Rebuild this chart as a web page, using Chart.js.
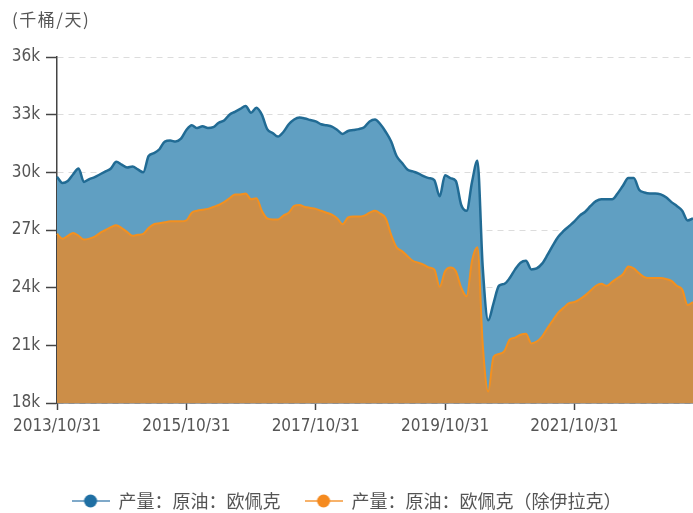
<!DOCTYPE html>
<html>
<head>
<meta charset="utf-8">
<script src="https://cdn.jsdelivr.net/npm/chart.js@4.4.1/dist/chart.umd.min.js"></script>
<style>
    html, body { margin: 0; padding: 0; background: #fff; }
    #wrap { width: 693px; height: 513px; }
</style>
</head>
<body>
<div id="wrap"><canvas id="oilChart"></canvas></div>
<script>
// OPEC crude output, thousand barrels per day (monthly)
const opecValues = [
    29.77, 29.45, 29.55, 29.9, 30.2, 29.5, 29.65, 29.75, 29.9, 30.05,
    30.2, 30.55, 30.4, 30.25, 30.3, 30.15, 30.0, 30.85, 31.0, 31.2,
    31.6, 31.65, 31.6, 31.75, 32.2, 32.45, 32.3, 32.4, 32.3, 32.35,
    32.58, 32.7, 33.0, 33.15, 33.3, 33.45, 33.1, 33.36, 33.0, 32.25,
    32.05, 31.86, 32.1, 32.5, 32.75, 32.85, 32.8, 32.72, 32.65, 32.5,
    32.45, 32.38, 32.2, 32.0, 32.15, 32.2, 32.25, 32.35, 32.65, 32.75,
    32.5, 32.1, 31.6, 30.85, 30.5, 30.15, 30.05, 29.95, 29.8, 29.7,
    29.6, 28.75, 29.85, 29.7, 29.55, 28.3, 28.0, 29.5, 30.6, 25.0,
    22.3, 23.2, 24.1, 24.2, 24.5, 24.95, 25.3, 25.4, 24.95, 25.0,
    25.25, 25.7, 26.2, 26.65, 26.95, 27.2, 27.45, 27.75, 27.95, 28.25,
    28.5, 28.6, 28.6, 28.6, 28.9, 29.3, 29.7, 29.7, 29.1, 28.95,
    28.9, 28.9, 28.85, 28.7, 28.45, 28.25, 28.0, 27.5, 27.6
];

// OPEC excluding Iraq
const opecExIraqValues = [
    26.8, 26.55, 26.7, 26.85, 26.7, 26.5, 26.55, 26.65, 26.85, 27.0,
    27.15, 27.25, 27.1, 26.9, 26.7, 26.75, 26.8, 27.1, 27.3, 27.35,
    27.4, 27.45, 27.45, 27.45, 27.5, 27.9, 28.0, 28.05, 28.1, 28.2,
    28.3, 28.45, 28.65, 28.85, 28.85, 28.9, 28.6, 28.65, 28.0, 27.6,
    27.55, 27.55, 27.75, 27.9, 28.25, 28.3, 28.2, 28.15, 28.1, 28.0,
    27.9, 27.8, 27.6, 27.3, 27.65, 27.7, 27.7, 27.75, 27.9, 28.0,
    27.85, 27.6, 26.75, 26.1, 25.9, 25.65, 25.4, 25.3, 25.2, 25.05,
    24.95, 24.05, 24.85, 25.05, 24.85, 24.0, 23.55, 25.4, 26.1, 21.0,
    18.6, 20.4, 20.55, 20.7, 21.3, 21.4, 21.55, 21.6, 21.1, 21.2,
    21.45, 21.9, 22.3, 22.7, 22.95, 23.2, 23.25, 23.4, 23.6, 23.85,
    24.1, 24.2, 24.1, 24.3, 24.5, 24.7, 25.1, 25.0, 24.75, 24.55,
    24.5, 24.5, 24.5, 24.45, 24.35, 24.1, 23.9, 23.1, 23.25
];

const seriesNames = ['产量：原油：欧佩克', '产量：原油：欧佩克（除伊拉克）'];
const yTicks = [18, 21, 24, 27, 30, 33, 36];
const labelEvery = 24;   // one x label every two years

// month-end dates, starting 2013/10/31
const monthLabels = [];
for (let i = 0; i < opecValues.length; i++) {
    const d = new Date(2013, 10 + i, 0);
    const mm = String(d.getMonth() + 1).padStart(2, '0');
    monthLabels.push(d.getFullYear() + '/' + mm + '/' + d.getDate());
}

const textColor = '#555';
const numFont = '"DejaVu Sans Condensed", "DejaVu Sans", sans-serif';
const cjkFont = '"Noto Sans CJK SC", sans-serif';

// line with a dot in the middle, used as legend symbol
function legendMarker(lineColor, dotColor) {
    const c = document.createElement('canvas');
    c.width = 38;
    c.height = 14;
    const g = c.getContext('2d');
    g.strokeStyle = lineColor;
    g.lineWidth = 2;
    g.beginPath();
    g.moveTo(0, 7);
    g.lineTo(38, 7);
    g.stroke();
    g.fillStyle = dotColor;
    g.beginPath();
    g.arc(19, 7, 6.5, 0, Math.PI * 2);
    g.fill();
    return c;
}
const markers = [legendMarker('#7fa9c9', '#1f6fa3'), legendMarker('#f7b26a', '#f58a1f')];

// unit text in the top-left corner
const unitLabel = {
    id: 'unitLabel',
    afterDraw(chart) {
        const ctx = chart.ctx;
        ctx.save();
        ctx.font = '17px ' + cjkFont;
        ctx.fillStyle = textColor;
        ctx.textBaseline = 'middle';
        ctx.letterSpacing = '1.5px';
        ctx.fillText('(千桶/天)', 12, 20);
        ctx.restore();
    }
};

new Chart(document.getElementById('oilChart'), {
    type: 'line',
    data: {
        labels: monthLabels,
        datasets: [{
            label: seriesNames[0],
            data: opecValues,
            borderColor: '#216b94',
            backgroundColor: '#609fc2',
            borderWidth: 2.5,
            fill: 'origin',
            pointRadius: 0,
            cubicInterpolationMode: 'monotone',
            order: 1
        }, {
            label: seriesNames[1],
            data: opecExIraqValues,
            borderColor: '#f3901f',
            backgroundColor: '#cc8e48',
            borderWidth: 2,
            fill: 'origin',
            pointRadius: 0,
            cubicInterpolationMode: 'monotone',
            order: 0
        }]
    },
    options: {
        responsive: true,
        maintainAspectRatio: false,
        animation: false,
        layout: { padding: { left: 0, right: 0, top: 57, bottom: -7 } },
        scales: {
            x: {
                ticks: {
                    autoSkip: false,
                    maxRotation: 0,
                    color: textColor,
                    font: { family: numFont, size: 17 },
                    padding: 6,
                    callback: function(value, index) {
                        return index % labelEvery === 0 ? monthLabels[index] : null;
                    }
                },
                grid: { drawOnChartArea: false, tickLength: 7, tickColor: '#444', tickWidth: 1.5 },
                border: { color: '#444', width: 1.5 },
                afterFit: function(scale) { scale.height = 65; }
            },
            y: {
                min: 18,
                max: 36,
                afterBuildTicks: function(scale) {
                    scale.ticks = yTicks.map(v => ({ value: v }));
                },
                ticks: {
                    color: textColor,
                    font: { family: numFont, size: 17 },
                    padding: 6,
                    callback: v => v + 'k'
                },
                grid: { color: '#dcdcdc', tickLength: 11, tickColor: '#444', tickWidth: 1.5 },
                border: { color: '#444', width: 1.5, dash: [6, 5] },
                afterFit: function(scale) { scale.width = 57; }
            }
        },
        plugins: {
            legend: {
                position: 'bottom',
                labels: {
                    usePointStyle: true,
                    pointStyleWidth: 38,
                    boxHeight: 14,
                    padding: 24,
                    color: textColor,
                    font: { family: cjkFont, size: 18 },
                    sort: (a, b) => a.datasetIndex - b.datasetIndex,
                    generateLabels: function(chart) {
                        const items = Chart.defaults.plugins.legend.labels.generateLabels(chart);
                        items.forEach(it => { it.pointStyle = markers[it.datasetIndex]; });
                        return items;
                    }
                }
            },
            tooltip: { enabled: false }
        }
    },
    plugins: [unitLabel]
});
</script>
</body>
</html>
